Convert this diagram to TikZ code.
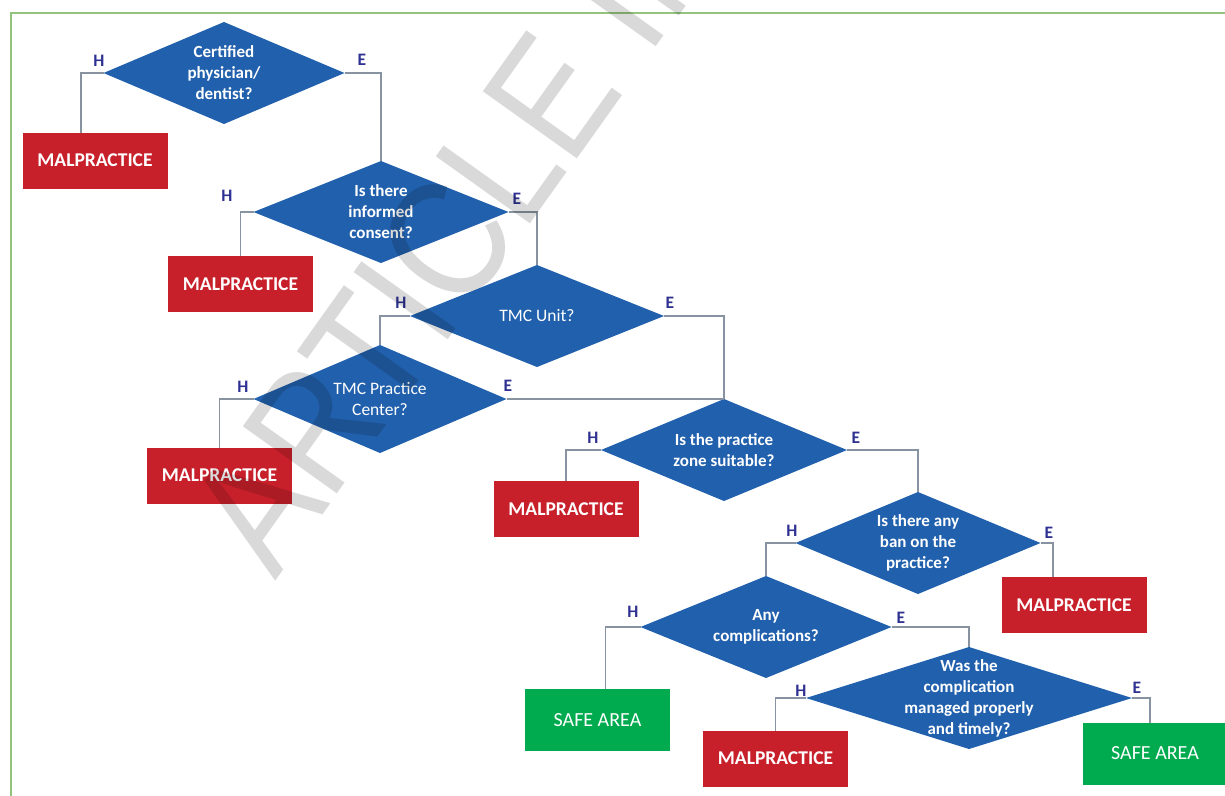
\documentclass[tikz,border=0pt]{standalone}
\usepackage{fontspec}
\setmainfont{Carlito}
\newfontfamily\wmfont{Liberation Sans}
\usetikzlibrary{shapes.geometric}
\definecolor{diablue}{RGB}{33,96,172}
\definecolor{malred}{RGB}{200,32,42}
\definecolor{safegreen}{RGB}{0,171,80}
\definecolor{linegray}{RGB}{135,147,160}
\definecolor{labblue}{RGB}{46,49,146}
\definecolor{framegreen}{RGB}{146,196,125}

\begin{document}
\begin{tikzpicture}[x=1pt,y=-1pt]\tikzset{dia/.style = {shape=diamond, fill=diablue, inner sep=0pt, outer sep=0pt, minimum height=102},
	qtext/.style = {text=white, align=center, inner sep=0pt, font=\fontsize{17}{21}\selectfont\bfseries},
	qplain/.style = {qtext, font=\fontsize{17.5}{21}\selectfont},
	mal/.style = {rectangle, fill=malred, minimum width=145, minimum height=56, inner sep=0pt, outer sep=0pt, text=white, font=\fontsize{19.5}{20}\selectfont\bfseries},
	safe/.style = {mal, fill=safegreen, minimum height=62, font=\fontsize{20}{20}\selectfont},
	link/.style = {draw=linegray, line width=1.5pt},
	he/.style = {text=labblue, inner sep=0pt, font=\fontsize{17.5}{18}\selectfont\bfseries}}

		\useasboundingbox (0,0) rectangle (1225,795);
		\draw[framegreen, line width=2pt] (11,800) -- (11,12.5) -- (1230,12.5);

		\node[dia, minimum width=241, label={[qtext]center:{Certified\\physician/\\dentist?}}] (d1) at (224,73) {};
		\node[dia, minimum width=255, label={[qtext]center:{Is there\\informed\\consent?}}] (d2) at (381,212) {};
		\node[dia, minimum width=254, label={[qplain]center:{TMC Unit?}}] (d3) at (537,316) {};
		\node[dia, minimum width=253, minimum height=108, label={[qplain]center:{TMC Practice\\Center?}}] (d4) at (380,399) {};
		\node[dia, minimum width=246, label={[qtext]center:{Is the practice\\zone suitable?}}] (d5) at (724,450) {};
		\node[dia, minimum width=245, label={[qtext]center:{Is there any\\ban on the\\practice?}}] (d6) at (918,543) {};
		\node[dia, minimum width=251, label={[qtext]center:{Any\\complications?}}] (d7) at (766,627) {};
		\node[dia, minimum width=326, label={[qtext]center:{Was the\\complication\\managed properly\\and timely?}}] (d8) at (969,698) {};

		\node[mal] (m1) at (95,160.5) {MALPRACTICE};
		\node[mal] (m2) at (240.5,284) {MALPRACTICE};
		\node[mal] (m3) at (219.5,475.5) {MALPRACTICE};
		\node[mal] (m4) at (566,509) {MALPRACTICE};
		\node[mal] (m5) at (1074,605) {MALPRACTICE};
		\node[safe] (s1) at (597.5,720) {SAFE AREA};
		\node[mal] (m6) at (775.5,758.5) {MALPRACTICE};
		\node[safe] (s2) at (1155,753.5) {SAFE AREA};

		\draw[link] (d1.west) -| ([xshift=-14pt]m1.north);
		\draw[link] (d1.east) -| (d2.north);
		\draw[link] (d2.west) -| (m2.north);
		\draw[link] (d2.east) -| (d3.north);
		\draw[link] (d3.west) -| (d4.north);
		\draw[link] (d3.east) -| (d5.north);
		\draw[link] (d4.west) -| (m3.north);
		\draw[link] (d4.east) -- (d5.north);
		\draw[link] (d5.west) -| (m4.north);
		\draw[link] (d5.east) -| (d6.north);
		\draw[link] (d6.west) -| (d7.north);
		\draw[link] (d6.east) -| ([xshift=-21pt]m5.north);
		\draw[link] (d7.west) -| ([xshift=8pt]s1.north);
		\draw[link] (d7.east) -| (d8.north);
		\draw[link] (d8.west) -| (m6.north);
		\draw[link] (d8.east) -| ([xshift=-5pt]s2.north);

		\node[he] (h1) at (99,61) {H};
		\node[he] (e1) at (362,60) {E};
		\node[he] (h2) at (227,196) {H};
		\node[he] (e2) at (517,199) {E};
		\node[he] (h3) at (401,303) {H};
		\node[he] (e3) at (670,303) {E};
		\node[he] (h4) at (243,387) {H};
		\node[he] (e4) at (508,386) {E};
		\node[he] (h5) at (593,438) {H};
		\node[he] (e5) at (856,438) {E};
		\node[he] (h6) at (792,531) {H};
		\node[he] (e6) at (1049,533) {E};
		\node[he] (h7) at (633,612) {H};
		\node[he] (e7) at (901,618) {E};
		\node[he] (h8) at (801,691) {H};
		\node[he] (e8) at (1137,688) {E};

		% watermark
		\node[rotate=54.5, xscale=0.855, anchor=base west, inner sep=0pt, text=black, text opacity=0.15, font=\wmfont\fontsize{168}{168}\selectfont] (wm) at (275,582) {ARTICLE IN PRESS};
	\end{tikzpicture}
\end{document}
